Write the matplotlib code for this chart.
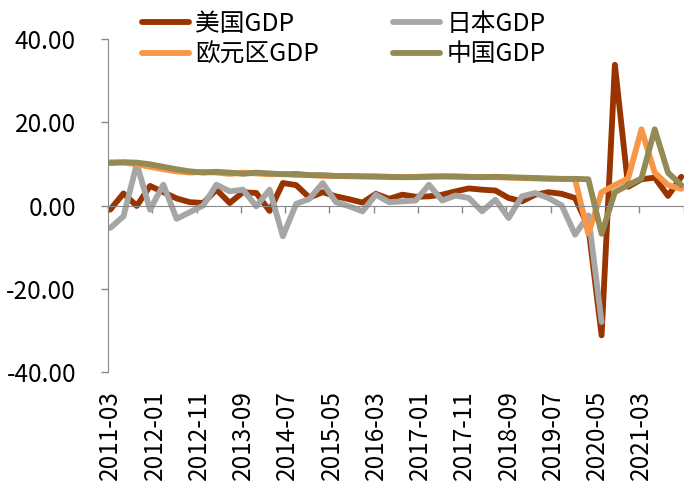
import numpy as np
import matplotlib
matplotlib.use("Agg")
import matplotlib.pyplot as plt
from matplotlib.ticker import FormatStrFormatter

plt.rcParams['font.family'] = ['Noto Sans CJK SC', 'DejaVu Sans']

# Quarterly growth rates, 2011Q1 .. 2021Q4 (%)
us_gdp = [-1.0, 2.9, -0.1, 4.7, 3.2, 1.7, 0.8, 0.6, 3.8, 0.6, 3.2, 3.0,
          -1.3, 5.4, 4.9, 1.9, 3.2, 2.2, 1.5, 0.7, 2.8, 1.6, 2.6, 2.1,
          2.2, 2.6, 3.4, 4.1, 3.8, 3.6, 1.8, 1.0, 2.6, 3.2, 2.8, 1.8,
          -5.1, -31.2, 33.8, 4.5, 6.3, 6.7, 2.3, 6.9]
japan_gdp = [-5.4, -2.6, 10.0, -1.0, 5.0, -3.2, -1.6, 0.0, 5.0, 3.4, 3.8, -0.2,
             3.8, -7.4, 0.4, 1.6, 5.4, 0.8, -0.2, -1.4, 2.6, 0.8, 1.0, 1.2,
             5.0, 1.2, 2.4, 1.8, -1.4, 1.4, -3.0, 2.2, 3.0, 1.8, 0.0, -7.0,
             -2.4, -28.0]
euro_gdp = [10.4, 10.3, 9.9, 9.3, 8.7, 8.2, 7.9, 8.1, 7.9, 7.6, 7.9, 7.7,
            7.5, 7.6, 7.3, 7.3, 7.1, 7.1, 7.0, 7.0, 6.9, 6.8, 6.8, 6.9,
            7.0, 7.0, 6.9, 6.8, 6.9, 6.8, 6.7, 6.6, 6.5, 6.4, 6.4, 6.3,
            -6.8, 3.2, 4.9, 6.5, 18.3, 7.9, 4.9, 4.0]
china_gdp = [10.2, 10.4, 10.3, 9.9, 9.3, 8.7, 8.2, 7.9, 8.1, 7.9, 7.6, 7.9,
             7.7, 7.5, 7.6, 7.3, 7.3, 7.1, 7.1, 7.0, 7.0, 6.9, 6.8, 6.8,
             6.9, 7.0, 7.0, 6.9, 6.8, 6.9, 6.8, 6.7, 6.6, 6.5, 6.4, 6.4,
             6.3, -6.8, 3.2, 4.9, 6.5, 18.3, 7.9, 4.9]

series_names = ["美国GDP", "日本GDP", "欧元区GDP", "中国GDP"]
series_colors = ["#993300", "#A6A6A6", "#F79646", "#948A54"]

tick_labels = ["2011-03", "2012-01", "2012-11", "2013-09", "2014-07",
               "2015-05", "2016-03", "2017-01", "2017-11", "2018-09",
               "2019-07", "2020-05", "2021-03"]

# month offsets from 2011-03
def months(values):
    return np.arange(len(values)) * 3

axis_grey = "#898989"
fs = 17.5

fig = plt.figure(figsize=(6.84, 4.82), dpi=100)
ax = fig.add_axes([108 / 684, 110 / 482, (683.5 - 108) / 684, (443 - 110) / 482])

lines = []
for vals, name, col in zip([us_gdp, japan_gdp, euro_gdp, china_gdp],
                           series_names, series_colors):
    ln, = ax.plot(months(vals), vals, color=col, lw=4.2, label=name,
                  solid_joinstyle="round", solid_capstyle="round")
    lines.append(ln)

ax.set_xlim(-0.5, 129.5)
ax.set_ylim(-40, 40)

for s in ("top", "right"):
    ax.spines[s].set_visible(False)
ax.spines["left"].set_color(axis_grey)
ax.spines["bottom"].set_color(axis_grey)
ax.spines["bottom"].set_position(("data", 0))

ax.set_yticks([-40, -20, 0, 20, 40])
ax.yaxis.set_major_formatter(FormatStrFormatter("%.2f"))
ax.tick_params(axis="y", direction="out", length=5, width=1, color=axis_grey,
               pad=18, labelsize=fs, labelcolor="black")

# tick marks on the zero line, between month groups
ax.set_xticks(np.arange(-0.5, 130, 10))
ax.tick_params(axis="x", direction="out", length=5, width=1, color=axis_grey,
               labelbottom=False)

# date labels along the bottom of the plot area
sec = ax.secondary_xaxis("bottom")
sec.set_xticks(np.arange(len(tick_labels)) * 10, labels=tick_labels, rotation=90)
sec.tick_params(length=0, pad=13, labelsize=fs)
sec.spines["bottom"].set_visible(False)

order = [0, 2, 1, 3]
fig.legend([lines[i] for i in order], [series_names[i] for i in order],
           ncol=2, loc="upper left", bbox_to_anchor=(142 / 684, 1 - 11 / 482),
           bbox_transform=fig.transFigure, frameon=False, fontsize=17.8,
           handlelength=1.9, handletextpad=0.25, columnspacing=3.0,
           labelspacing=0.17, borderpad=0, borderaxespad=0)

fig.savefig("out.png", dpi=100)
